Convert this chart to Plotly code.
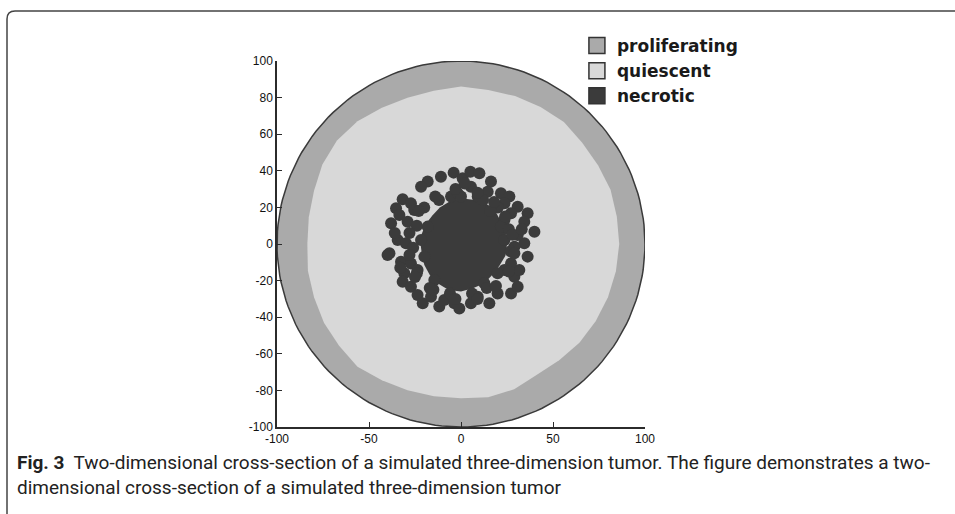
import numpy as np
import plotly.graph_objects as go

# ---------------- data ----------------
categories = ["proliferating", "quiescent", "necrotic"]
colors = {"proliferating": "#aaaaaa", "quiescent": "#d8d8d8", "necrotic": "#3b3b3b"}

tumor_radius = 100.0  # outer boundary of the tumor

# inner boundary of the proliferating rim (= edge of quiescent zone), every 10 degrees
quiescent_angles_deg = list(range(0, 360, 10))
quiescent_radius = [86, 86, 86.5, 86, 86, 87, 86.5, 86, 85.5, 86,
                    85, 85, 86, 87.5, 88, 87, 85, 84,
                    83.5, 84.5, 85, 86, 86.5, 87.5, 86, 85, 84.5,
                    84.3, 85, 84.5, 82.5, 83, 84, 84.5, 85, 85.5]

# dense necrotic core, every 15 degrees
core_angles_deg = list(range(0, 360, 15))
core_radius = [25, 25, 25, 26, 26, 25, 25, 24, 23, 22, 22, 22,
               22, 22, 23, 24, 25, 26, 26, 25, 25, 24, 24, 25]

# individual necrotic cells around the core
necrotic_x = [-4.0, 0.9, 5.4, 5.1, 10.0, -10.9, -18.1, -21.7, 16.3, 14.5, 21.7, 26.3, 23.6,
              -31.7, -27.2, -35.3, -33.5, -38.0, -29.0, -25.4, -34.4, -29.9, -38.9, -32.6,
              -27.2, -30.8, -23.6, -31.7, -27.2, -23.6, -20.8, -16.3, -11.8, -9.1, -3.6,
              -0.9, 5.4, 9.1, 15.4, 19.9, 27.2, 30.8, 29.0, 31.7, 27.2, 23.6, 36.2, 34.4,
              39.9, 30.8, 29.0, 30.8, 36.2, 34.4, 27.2, 23.6, -39.9,
              -5.4, 9.1, -18.1, -21.7, -19.9, -14.5, 12.7, 19.9, 23.6, 21.7, -1.8,
              -12.0, 0.0, 12.0, 20.0, 26.0, 27.0, -24.0, -26.0, -24.0, -20.0,
              -6.0, 6.0, 14.0, -15.0, 16.0,
              28.0, 24.0, 18.0, 9.0, -3.0, -14.0, -23.0, -28.0, -28.0, -25.0,
              -17.0, -3.0, 9.0, 19.0, 26.0, 29.0, 33.0, -33.0, -36.0, 2.0]
necrotic_y = [39.0, 35.9, 31.3, 39.5, 38.6, 36.8, 34.1, 31.3, 34.1, 28.6, 27.7, 25.9, 22.2,
              24.4, 22.2, 19.5, 15.8, 11.3, 12.2, 18.6, 2.2, 0.4, -5.1, -9.7,
              -10.6, -16.0, -14.2, -20.6, -23.3, -27.9, -32.4, -28.8, -34.2, -30.6, -32.4,
              -35.2, -32.4, -28.8, -32.4, -27.0, -27.0, -23.3, -17.9, -14.2, -10.6, -14.2, -6.9, 0.4,
              6.7, 4.9, -1.5, 20.4, 16.8, 12.2, 16.8, 13.1, -6.0,
              25.9, 25.9, 9.5, 2.2, -6.9, -19.7, -21.5, -16.0, 2.2, 9.5, 27.7,
              24.0, 26.0, 24.0, 20.0, 8.0, -4.0, 10.0, -2.0, -16.0, 20.0,
              -27.0, -27.0, -24.0, -25.0, 18.0,
              5.0, 15.0, 23.0, 28.0, 30.0, 26.0, 18.0, 6.0, -6.0, -18.0,
              -24.0, -30.0, -30.0, -23.0, -15.0, -5.0, 8.0, -13.0, 6.0, 33.0]

x_ticks = [-100, -50, 0, 50, 100]
x_tick_labels = ["-100", "-50", "0", "50", "100"]
y_ticks = [-100, -80, -60, -40, -20, 0, 20, 40, 60, 80, 100]
y_tick_labels = ["-100", "-80", "-60", "-40", "-20", "0", "20", "40", "60", "80", "100"]

caption_bold = "Fig. 3"
caption_line1 = "Two-dimensional cross-section of a simulated three-dimension tumor. The figure demonstrates a two-"
caption_line2 = "dimensional cross-section of a simulated three-dimension tumor"


def polar(radii, angles_deg):
    a = np.deg2rad(np.asarray(angles_deg, dtype=float))
    r = np.asarray(radii, dtype=float)
    x = np.append(r * np.cos(a), r[0] * np.cos(a[0]))
    y = np.append(r * np.sin(a), r[0] * np.sin(a[0]))
    return x, y


outer_angles = np.arange(0, 360, 2)
ox, oy = polar(np.full(outer_angles.shape, tumor_radius), outer_angles)
qx, qy = polar(quiescent_radius, quiescent_angles_deg)
cx, cy = polar(core_radius, core_angles_deg)

fig = go.Figure()

# proliferating rim (whole disc, outlined)
fig.add_trace(go.Scatter(x=ox, y=oy, mode="lines", fill="toself",
                         fillcolor=colors["proliferating"],
                         line=dict(color="#3a3a3a", width=1.5),
                         showlegend=False, hoverinfo="skip"))
# quiescent zone
fig.add_trace(go.Scatter(x=qx, y=qy, mode="lines", fill="toself",
                         fillcolor=colors["quiescent"], line=dict(width=0),
                         showlegend=False, hoverinfo="skip"))
# necrotic core
fig.add_trace(go.Scatter(x=cx, y=cy, mode="lines", fill="toself",
                         fillcolor=colors["necrotic"], line=dict(width=0),
                         showlegend=False, hoverinfo="skip"))
# necrotic cells
fig.add_trace(go.Scatter(x=necrotic_x, y=necrotic_y, mode="markers",
                         marker=dict(size=12, color=colors["necrotic"]),
                         showlegend=False, hoverinfo="skip"))

# legend entries
for name in categories:
    fig.add_trace(go.Scatter(x=[None], y=[None], mode="markers", name=name,
                             marker=dict(symbol="square", size=16, color=colors[name],
                                         line=dict(color="#333333", width=1.5))))

# plot-area geometry in pixels (for frame + caption placement)
L, R, T, B = 277, 645, 61, 427


def P(px, py):
    return (px - L) / (R - L), (B - py) / (B - T)


p0 = P(7, 530); p1 = P(7, 19); pc = P(7, 11); p2 = P(15, 11); p3 = P(970, 11)
frame_path = (f"M{p0[0]},{p0[1]} L{p1[0]},{p1[1]} Q{pc[0]},{pc[1]} {p2[0]},{p2[1]} "
              f"L{p3[0]},{p3[1]}")

cap1 = P(15, 462)
cap2 = P(15, 487)

axis_common = dict(showline=True, linecolor="#2b2b2b", linewidth=1.5, mirror=False,
                   ticks="inside", ticklen=5, tickwidth=1.2, tickcolor="#2b2b2b",
                   showgrid=False, zeroline=False,
                   tickfont=dict(family="Liberation Sans", size=12, color="#111111"))

fig.update_layout(
    width=955, height=514,
    margin=dict(l=L, r=955 - R, t=T, b=514 - B, pad=0),
    paper_bgcolor="white", plot_bgcolor="white",
    xaxis=dict(range=[-100, 100], tickvals=x_ticks, ticktext=x_tick_labels, **axis_common),
    yaxis=dict(range=[-100, 100], tickvals=y_ticks, ticktext=y_tick_labels, **axis_common),
    legend=dict(x=0.815, y=1.09, xanchor="left", yanchor="top",
                bgcolor="rgba(0,0,0,0)", tracegroupgap=0,
                font=dict(family="DejaVu Sans", size=17, color="#1a1a1a", weight="bold")),
    shapes=[dict(type="path", xref="paper", yref="paper", path=frame_path,
                 line=dict(color="#444444", width=1.5), layer="above")],
    annotations=[
        dict(xref="paper", yref="paper", x=cap1[0], y=cap1[1], xanchor="left", yanchor="middle",
             showarrow=False, align="left",
             text=f"<b>{caption_bold}</b>  {caption_line1}",
             font=dict(family="Roboto", size=19, color="#222222")),
        dict(xref="paper", yref="paper", x=cap2[0], y=cap2[1], xanchor="left", yanchor="middle",
             showarrow=False, align="left", text=caption_line2,
             font=dict(family="Roboto", size=19, color="#222222")),
    ],
)

fig.write_html("out.html", config={"displayModeBar": False},
               post_script="document.body.style.margin='0';")
